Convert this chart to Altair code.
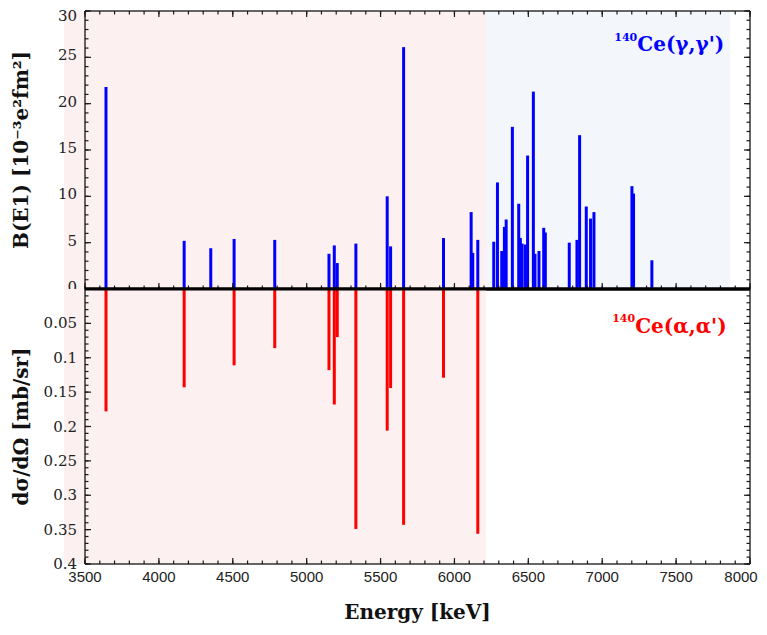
import altair as alt
import pandas as pd

# ---------------- data ----------------
gamma_energy = [3642, 4171, 4351, 4509, 4784, 5151, 5187, 5207, 5333, 5545,
                5568, 5656, 5926, 6113, 6124, 6158, 6266, 6291, 6320, 6338,
                6350, 6392, 6435, 6446, 6458, 6480, 6495, 6534, 6545, 6572,
                6604, 6615, 6777, 6829, 6847, 6892, 6921, 6944, 7201, 7212, 7336]
gamma_be1 = [21.8, 5.2, 4.4, 5.4, 5.3, 3.8, 4.7, 2.8, 4.9, 10.0,
             4.6, 26.1, 5.5, 8.3, 3.9, 5.3, 5.1, 11.5, 4.1, 6.7,
             7.5, 17.5, 9.2, 5.5, 4.9, 4.8, 14.4, 21.3, 3.8, 4.1,
             6.6, 6.1, 5.0, 5.3, 16.6, 8.9, 7.6, 8.3, 11.1, 10.3, 3.1]

alpha_energy = [3642, 4171, 4509, 4784, 5151, 5187, 5207, 5333, 5545, 5568, 5656, 5926, 6158]
alpha_xsec = [0.178, 0.143, 0.111, 0.086, 0.118, 0.168, 0.070, 0.349, 0.206, 0.144, 0.343, 0.129, 0.356]

x_domain = [3500, 8000]
top_domain = [0, 30]
bottom_domain = [0, 0.4]

pink_region = [3358, 6214]
blue_region = [6214, 7865]

x_major = [3500, 4000, 4500, 5000, 5500, 6000, 6500, 7000, 7500, 8000]
x_tick_labels = ["3500", "4000", "4500", "5000", "5500", "6000", "6500", "7000", "7500", "8000"]
x_minor = list(range(3500, 8001, 100))
top_major = [0, 5, 10, 15, 20, 25, 30]
top_tick_labels = ["0", "5", "10", "15", "20", "25", "30"]
top_minor = list(range(0, 31))
bottom_major = [0, 0.05, 0.1, 0.15, 0.2, 0.25, 0.3, 0.35, 0.4]
bottom_label_values = [0.05, 0.1, 0.15, 0.2, 0.25, 0.3, 0.35, 0.4]
bottom_tick_labels = ["0.05", "0.1", "0.15", "0.2", "0.25", "0.3", "0.35", "0.4"]
bottom_minor = [i / 100 for i in range(0, 41)]

top_title = "B(E1) [10⁻³e²fm²]"
bottom_title = "dσ/dΩ [mb/sr]"
x_title = "Energy [keV]"

gamma_label = ["140", "Ce(γ,γ')"]
gamma_label_x = [7237]
gamma_label_y = [26.75, 25.7]
alpha_label = ["140", "Ce(α,α')"]
alpha_label_x = [7223]
alpha_label_y = [0.0476, 0.0636]

# ---------------- layout ----------------
W, H1, H2 = 665, 278, 275
MAJ, MIN = 6, 3.5           # tick lengths in pixels
PINK = "#fdf0f0"
BLUE_BG = "#f3f6fa"
AXC = "#333333"
TICKC = "#1a1a1a"
SERIF = "DejaVu Serif"
SANS = "Liberation Sans"

# pixel -> data-unit conversion factors (used only for tick lengths)
KEV_PER_PX = (x_domain[1] - x_domain[0]) / W
TOP_PER_PX = (top_domain[1] - top_domain[0]) / H1
BOT_PER_PX = (bottom_domain[1] - bottom_domain[0]) / H2

xs = alt.Scale(domain=x_domain, nice=False, zero=False)
ys_top = alt.Scale(domain=top_domain, nice=False, zero=False)
ys_bot = alt.Scale(domain=bottom_domain, nice=False, zero=False, reverse=True)


def X(field):
    return alt.X(field, scale=xs, axis=None)


def Y(field, scale):
    return alt.Y(field, scale=scale, axis=None)


def xticks(vals, scale_y, edge, length):
    n = len(vals)
    df = pd.DataFrame({"t": vals, "a": [edge] * n, "b": [edge + length] * n})
    return alt.Chart(df).mark_rule(color=TICKC, strokeWidth=1.2).encode(
        x=X("t:Q"), y=Y("a:Q", scale_y), y2="b:Q")


def yticks(vals, scale_y, edge, length):
    n = len(vals)
    df = pd.DataFrame({"t": vals, "a": [edge] * n, "b": [edge + length] * n})
    return alt.Chart(df).mark_rule(color=TICKC, strokeWidth=1.2).encode(
        y=Y("t:Q", scale_y), x=X("a:Q"), x2="b:Q")


def frame_rule(scale_y, xa, xb, ya, yb, width=1.5, color=AXC):
    df = pd.DataFrame({"xa": [xa], "xb": [xb], "ya": [ya], "yb": [yb]})
    return alt.Chart(df).mark_rule(color=color, strokeWidth=width).encode(
        x=X("xa:Q"), x2="xb:Q", y=Y("ya:Q", scale_y), y2="yb:Q")


def ylabels(vals, texts, scale, baseline="middle", dy=0):
    df = pd.DataFrame({"t": vals, "s": texts})
    return alt.Chart(df).mark_text(
        align="right", baseline=baseline, dy=dy, font=SERIF, fontSize=15,
        color="#222").encode(y=Y("t:Q", scale), x=alt.value(-8), text="s:N")


def xlabels(vals, texts, dx=0):
    df = pd.DataFrame({"t": vals, "s": texts})
    return alt.Chart(df).mark_text(
        align="center", baseline="top", dx=dx, font=SANS, fontSize=15,
        color="#222").encode(x=X("t:Q"), y=alt.value(H2 + 6), text="s:N")


def title_text(text, x, y, angle=0):
    df = pd.DataFrame({"s": [text]})
    kw = {"angle": angle} if angle else {}
    return alt.Chart(df).mark_text(
        align="center", baseline="middle", font=SERIF, fontSize=20,
        fontWeight="bold", color="#111", **kw).encode(
        x=alt.value(x), y=alt.value(y), text="s:N")


def label_pair(df, scale_y, color):
    sup = alt.Chart(df.iloc[[0]]).mark_text(
        align="right", baseline="alphabetic", font=SERIF, fontSize=11,
        fontWeight="bold", color=color).encode(
        x=X("x:Q"), y=Y("y:Q", scale_y), text="t:N")
    main = alt.Chart(df.iloc[[1]]).mark_text(
        align="left", baseline="alphabetic", font=SERIF, fontSize=20,
        fontWeight="bold", color=color).encode(
        x=X("x:Q"), y=Y("y:Q", scale_y), text="t:N")
    return sup, main


gamma_df = pd.DataFrame({"E": gamma_energy, "v": gamma_be1})
alpha_df = pd.DataFrame({"E": alpha_energy, "v": alpha_xsec})

# ---------- top panel ----------
bg_top = pd.DataFrame({
    "x0": [pink_region[0], blue_region[0]],
    "x1": [pink_region[1], blue_region[1]],
    "y0": [top_domain[0], top_domain[0]],
    "y1": [top_domain[1], top_domain[1]],
    "c": [PINK, BLUE_BG],
})

t_bg = alt.Chart(bg_top).mark_rect().encode(
    x=X("x0:Q"), x2="x1:Q", y=Y("y0:Q", ys_top), y2="y1:Q",
    color=alt.Color("c:N", scale=None),
)

t_bars = alt.Chart(gamma_df).mark_rule(color="#0000ff", strokeWidth=3).encode(
    x=X("E:Q"), y=Y("v:Q", ys_top), y2=alt.datum(0),
)

g_lab = pd.DataFrame({"x": gamma_label_x * 2, "y": gamma_label_y, "t": gamma_label})
t_sup, t_main = label_pair(g_lab, ys_top, "#0000ff")

top = alt.layer(
    t_bg, t_bars,
    frame_rule(ys_top, x_domain[0], x_domain[1], top_domain[1], top_domain[1]),
    frame_rule(ys_top, x_domain[0], x_domain[0], top_domain[0], top_domain[1]),
    frame_rule(ys_top, x_domain[1], x_domain[1], top_domain[0], top_domain[1]),
    xticks(x_major, ys_top, top_domain[1], -MAJ * TOP_PER_PX),
    xticks(x_minor, ys_top, top_domain[1], -MIN * TOP_PER_PX),
    xticks(x_major, ys_top, top_domain[0], MAJ * TOP_PER_PX),
    xticks(x_minor, ys_top, top_domain[0], MIN * TOP_PER_PX),
    yticks(top_major, ys_top, x_domain[0], MAJ * KEV_PER_PX),
    yticks(top_minor, ys_top, x_domain[0], MIN * KEV_PER_PX),
    yticks(top_major, ys_top, x_domain[1], -MAJ * KEV_PER_PX),
    yticks(top_minor, ys_top, x_domain[1], -MIN * KEV_PER_PX),
    frame_rule(ys_top, x_domain[0], x_domain[1], 0, 0, width=3, color="black"),
    ylabels(top_major[:-1], top_tick_labels[:-1], ys_top, dy=-2),
    ylabels(top_major[-1:], top_tick_labels[-1:], ys_top, baseline="top", dy=-2),
    title_text(top_title, -63, H1 / 2, angle=270),
    t_sup, t_main,
).properties(width=W, height=H1)

# ---------- bottom panel ----------
bg_bot = pd.DataFrame({
    "x0": [pink_region[0]], "x1": [pink_region[1]],
    "y0": [bottom_domain[0]], "y1": [bottom_domain[1]], "c": [PINK],
})

b_bg = alt.Chart(bg_bot).mark_rect().encode(
    x=X("x0:Q"), x2="x1:Q", y=Y("y0:Q", ys_bot), y2="y1:Q",
    color=alt.Color("c:N", scale=None),
)

b_bars = alt.Chart(alpha_df).mark_rule(color="#ff0000", strokeWidth=3).encode(
    x=X("E:Q"), y=Y("v:Q", ys_bot), y2=alt.datum(0),
)

a_lab = pd.DataFrame({"x": alpha_label_x * 2, "y": alpha_label_y, "t": alpha_label})
b_sup, b_main = label_pair(a_lab, ys_bot, "#ff0000")

bottom = alt.layer(
    b_bg, b_bars,
    frame_rule(ys_bot, x_domain[0], x_domain[0], bottom_domain[0], bottom_domain[1]),
    frame_rule(ys_bot, x_domain[1], x_domain[1], bottom_domain[0], bottom_domain[1]),
    frame_rule(ys_bot, x_domain[0], x_domain[1], bottom_domain[1], bottom_domain[1]),
    xticks(x_major, ys_bot, bottom_domain[1], -MAJ * BOT_PER_PX),
    xticks(x_minor, ys_bot, bottom_domain[1], -MIN * BOT_PER_PX),
    yticks(bottom_major, ys_bot, x_domain[0], MAJ * KEV_PER_PX),
    yticks(bottom_minor, ys_bot, x_domain[0], MIN * KEV_PER_PX),
    yticks(bottom_major, ys_bot, x_domain[1], -MAJ * KEV_PER_PX),
    yticks(bottom_minor, ys_bot, x_domain[1], -MIN * KEV_PER_PX),
    frame_rule(ys_bot, x_domain[0], x_domain[1], 0, 0, width=3, color="black"),
    ylabels(bottom_label_values, bottom_tick_labels, ys_bot),
    xlabels(x_major[:-1], x_tick_labels[:-1]),
    xlabels(x_major[-1:], x_tick_labels[-1:], dx=-9),
    title_text(bottom_title, -63, H2 / 2, angle=270),
    title_text(x_title, W / 2, H2 + 49),
    b_sup, b_main,
).properties(width=W, height=H2)

chart = alt.vconcat(top, bottom, spacing=0, bounds="flush").resolve_scale(
    x="independent", y="independent").properties(
    padding={"left": 4, "top": 1, "right": 0, "bottom": 2}
).configure_view(stroke=None)

chart.save("out.html", embed_options={"renderer": "svg", "actions": False})
